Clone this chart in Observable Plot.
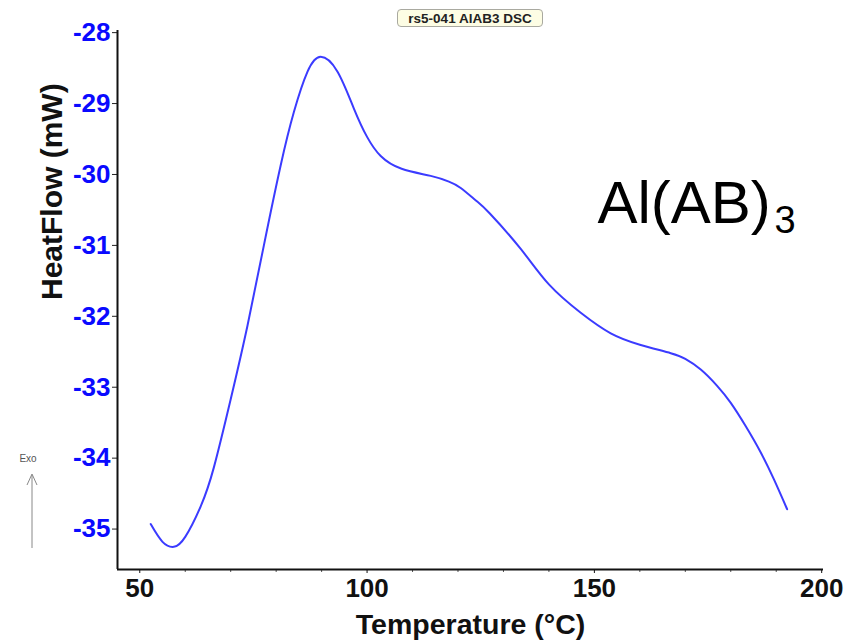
<!DOCTYPE html>
<html>
<head>
<meta charset="utf-8">
<script src="https://cdn.jsdelivr.net/npm/d3@7"></script>
<script src="https://cdn.jsdelivr.net/npm/@observablehq/plot@0.6"></script>
<style>
  html, body { margin: 0; padding: 0; background: #fff; }
  #wrap { position: relative; width: 859px; height: 644px; overflow: hidden; }
  #title {
    position: absolute; left: 397px; top: 9px; width: 146px; height: 18px;
    box-sizing: border-box; border: 1px solid #a9a9a0; border-radius: 4px;
    background: #fdfde4; font: bold 13.5px "Liberation Sans", Arial, sans-serif;
    color: #222; text-align: center; line-height: 17px; white-space: nowrap;
  }
  #deco { position: absolute; left: 0; top: 0; pointer-events: none; }
</style>
</head>
<body>
<div id="wrap"></div>
<script>
// Data
const temperature = [52.4, 55.0, 57.5, 60.0, 63.4, 66.3, 70.0, 73.7, 77.3, 81.0, 83.9, 86.9, 89.8, 93.5, 97.1, 100.0, 103.0, 107.6, 114.0, 118.0, 120.6, 124.0, 127.0, 133.8, 140.0, 147.0, 153.6, 160.0, 166.8, 170.0, 173.4, 177.0, 180.0, 183.3, 186.6, 189.5, 192.4];
const heatFlow = [-34.93, -35.18, -35.25, -35.11, -34.68, -34.13, -33.17, -32.13, -31.00, -29.87, -29.12, -28.55, -28.34, -28.55, -29.07, -29.47, -29.74, -29.92, -30.02, -30.10, -30.19, -30.37, -30.55, -31.05, -31.55, -31.95, -32.24, -32.40, -32.52, -32.60, -32.75, -32.98, -33.22, -33.55, -33.92, -34.30, -34.72];
const xTicks = [50, 100, 150, 200];
const xMinorTicks = [60, 70, 80, 90, 110, 120, 130, 140, 160, 170, 180, 190];
const yTicks = [-28, -29, -30, -31, -32, -33, -34, -35];
const xDomain = [45.1, 200.4];
const yDomain = [-35.57, -27.97];
const titleText = "rs5-041 AlAB3 DSC";
const xLabel = "Temperature (°C)";
const yLabel = "HeatFlow (mW)";

const data = temperature.map((t, i) => ({t, h: heatFlow[i]}));
const tickFont = '"Liberation Sans", Arial, sans-serif';

const plot = Plot.plot({
  width: 859,
  height: 644,
  marginLeft: 117,
  marginRight: 36,
  marginTop: 30,
  marginBottom: 75,
  style: {background: "#fff", fontFamily: '"Liberation Sans", Arial, sans-serif', overflow: "visible"},
  x: {domain: xDomain},
  y: {domain: yDomain},
  marks: [
    Plot.line(data, {x: "t", y: "h", stroke: "#3b3bff", strokeWidth: 2, curve: "natural"}),
    Plot.axisX(xMinorTicks, {tickSize: 3, text: null, stroke: "#555", label: null}),
    Plot.axisX(xTicks, {tickSize: 4, tickPadding: 5, fontSize: 26, fontWeight: "bold", fontFamily: tickFont, fill: "#111", stroke: "#111", label: null, tickFormat: d => String(d)}),
    Plot.axisY(yTicks, {tickSize: 5, tickPadding: 2, fontSize: 26, fontWeight: "bold", fontFamily: tickFont, fill: "#0a0aff", stroke: "#222", label: null, tickFormat: d => String(d)}),
    Plot.ruleY([yDomain[0]], {stroke: "#111", strokeWidth: 2}),
    Plot.ruleX([xDomain[0]], {stroke: "#111", strokeWidth: 2}),
    Plot.text([xLabel], {frameAnchor: "bottom", dy: 64, fontSize: 28.5, fontWeight: "bold", fill: "#111"}),
    Plot.text([yLabel], {frameAnchor: "left", dx: -65, rotate: -90, fontSize: 30, fontWeight: "bold", fill: "#111"}),
    Plot.text(["Al(AB)"], {frameAnchor: "top-left", dx: 480, dy: 192, lineAnchor: "bottom", textAnchor: "start", fontSize: 60, fill: "#000"}),
    Plot.text(["3"], {frameAnchor: "top-left", dx: 657, dy: 202, lineAnchor: "bottom", textAnchor: "start", fontSize: 38, fill: "#000"})
  ]
});

const wrap = document.getElementById("wrap");
wrap.appendChild(plot);

const title = document.createElement("div");
title.id = "title";
title.textContent = titleText;
wrap.appendChild(title);

// "Exo" indicator with arrow
const deco = d3.select(wrap).append("svg").attr("id", "deco").attr("width", 859).attr("height", 644);
deco.append("text").attr("x", 28).attr("y", 462).attr("text-anchor", "middle")
  .attr("font-family", '"Liberation Sans", Arial, sans-serif').attr("font-size", 10).attr("fill", "#555").text("Exo");
deco.append("line").attr("x1", 32).attr("x2", 32).attr("y1", 548).attr("y2", 475).attr("stroke", "#888").attr("stroke-width", 1);
deco.append("path").attr("d", "M27,485 L32,474 L37,485").attr("fill", "none").attr("stroke", "#888").attr("stroke-width", 1);
</script>
</body>
</html>
